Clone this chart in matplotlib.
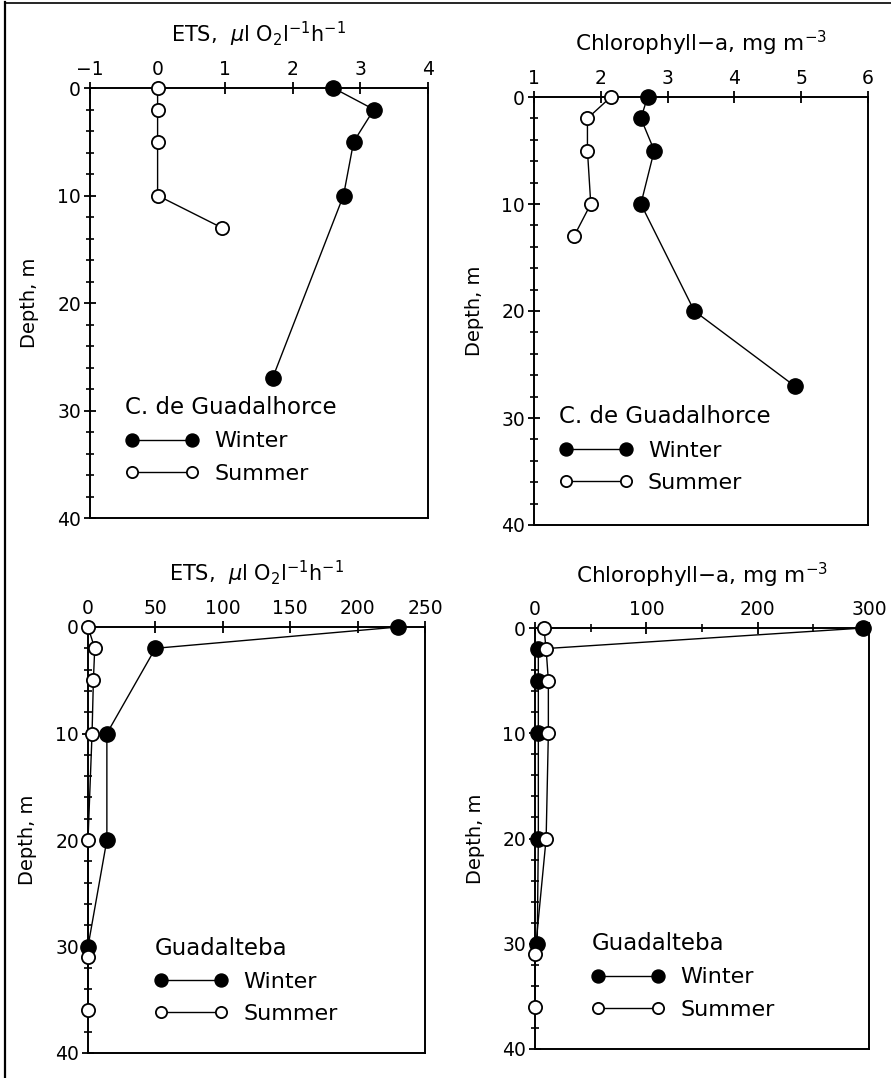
import matplotlib
matplotlib.use("Agg")
import matplotlib.pyplot as plt
from matplotlib.lines import Line2D
from matplotlib.ticker import MultipleLocator

plt.rcParams['font.family'] = ['DejaVu Sans']
plt.rcParams['mathtext.fontset'] = 'dejavusans'

# C. de Guadalhorce - ETS
ets_cg_depth_w = [0, 2, 5, 10, 27]
ets_cg_w = [2.6, 3.2, 2.9, 2.75, 1.7]
ets_cg_depth_s = [0, 2, 5, 10, 13]
ets_cg_s = [0, 0, 0, 0, 0.95]

# C. de Guadalhorce - Chlorophyll-a
chl_cg_depth_w = [0, 2, 5, 10, 20, 27]
chl_cg_w = [2.7, 2.6, 2.8, 2.6, 3.4, 4.9]
chl_cg_depth_s = [0, 2, 5, 10, 13]
chl_cg_s = [2.15, 1.8, 1.8, 1.85, 1.6]

# Guadalteba - ETS
ets_gt_depth_w = [0, 2, 10, 20, 30]
ets_gt_w = [230, 50, 14, 14, 0]
ets_gt_depth_s = [0, 2, 5, 10, 20, 31, 36]
ets_gt_s = [0, 5, 4, 3, 0, 0, 0]

# Guadalteba - Chlorophyll-a
chl_gt_depth_w = [0, 2, 5, 10, 20, 30]
chl_gt_w = [295, 3, 3, 3, 3, 2]
chl_gt_depth_s = [0, 2, 5, 10, 20, 31, 36]
chl_gt_s = [8, 10, 12, 12, 10, 0, 0]

ets_title = r'ETS,  $\mu$l O$_2$l$^{-1}$h$^{-1}$'
chl_title = r'Chlorophyll$-$a, mg m$^{-3}$'

W, H = 891, 1078
fig = plt.figure(figsize=(W / 100, H / 100), dpi=100)


def px_axes(left, top, right, bottom):
    return fig.add_axes([left / W, 1 - bottom / H, (right - left) / W, (bottom - top) / H])


def panel(ax, xw, yw, xs, ys, xlim, major, minor, title, site, leg_xy, title_fs):
    ax.plot(xw, yw, color='black', lw=1.0, marker='o', ms=11,
            mfc='black', mec='black', clip_on=False, label='Winter', zorder=3)
    ax.plot(xs, ys, color='black', lw=1.0, marker='o', ms=9.5,
            mfc='white', mec='black', mew=1.3, clip_on=False, label='Summer', zorder=3)

    ax.set_xlim(*xlim)
    ax.set_ylim(40, 0)
    ax.xaxis.tick_top()
    ax.xaxis.set_major_locator(MultipleLocator(major))
    if minor:
        ax.xaxis.set_minor_locator(MultipleLocator(minor))
    ax.yaxis.set_major_locator(MultipleLocator(10))
    ax.yaxis.set_minor_locator(MultipleLocator(2))
    ax.tick_params(which='major', direction='inout', length=9, width=1.3,
                   labelsize=13.5, pad=2, top=True, bottom=False, right=False)
    ax.tick_params(which='minor', direction='inout', length=6, width=1.2,
                   top=True, bottom=False, right=False)
    for s in ax.spines.values():
        s.set_linewidth(1.4)

    ax.text(0.5, 1.125, title, transform=ax.transAxes, ha='center',
            va='center', fontsize=title_fs)
    ax.set_ylabel('Depth, m', fontsize=14)
    ax.yaxis.set_label_coords(-0.15, 0.5)

    leg = ax.legend(title=site, loc='upper left', bbox_to_anchor=leg_xy,
                    frameon=False, numpoints=2, handlelength=3.3,
                    handletextpad=0.7, markerscale=0.85, fontsize=16,
                    title_fontsize=16.5, labelspacing=0.55, alignment='left')
    return leg


ax1 = px_axes(90, 88, 428, 518)
panel(ax1, ets_cg_w, ets_cg_depth_w, ets_cg_s, ets_cg_depth_s,
      (-1, 4), 1, None, ets_title, 'C. de Guadalhorce', (0.045, 0.33), 15)

ax2 = px_axes(534, 97, 868, 525)
panel(ax2, chl_cg_w, chl_cg_depth_w, chl_cg_s, chl_cg_depth_s,
      (1, 6), 1, None, chl_title, 'C. de Guadalhorce', (0.015, 0.326), 15.5)

ax3 = px_axes(88, 627, 425, 1053)
panel(ax3, ets_gt_w, ets_gt_depth_w, ets_gt_s, ets_gt_depth_s,
      (0, 250), 50, None, ets_title, 'Guadalteba', (0.138, 0.32), 15)

ax4 = px_axes(535, 628, 869, 1049)
panel(ax4, chl_gt_w, chl_gt_depth_w, chl_gt_s, chl_gt_depth_s,
      (0, 300), 100, 50, chl_title, 'Guadalteba', (0.11, 0.325), 15.5)

# page border from the scanned figure
fig.add_artist(Line2D([5 / W, 5 / W], [0, 1 - 2 / H], color='black', lw=1.6))
fig.add_artist(Line2D([5 / W, 1], [1 - 3 / H, 1 - 3 / H], color='black', lw=1.2))

fig.savefig('out.png', dpi=100)
